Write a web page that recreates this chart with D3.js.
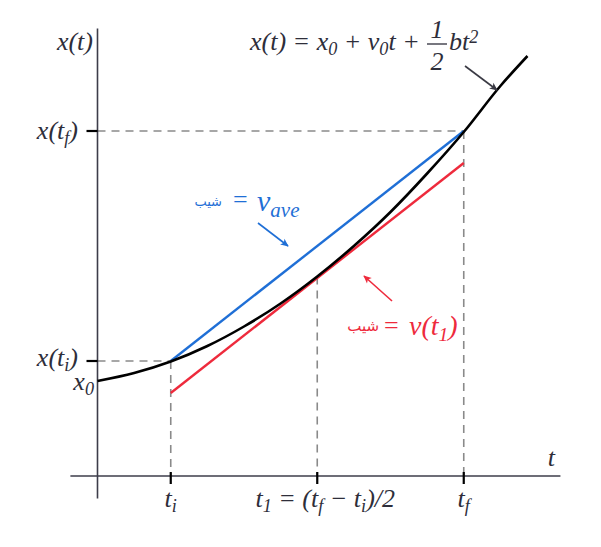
<!DOCTYPE html>
<html>
<head>
<meta charset="utf-8">
<script src="https://cdn.jsdelivr.net/npm/d3@7"></script>
<style>
  body { margin: 0; background: #fff; }
</style>
</head>
<body>
<div id="chart"></div>
<script>
const width = 601
const height = 547

// position along the curve x(t)
const curveT = [0, 0.5, 1, 1.5, 2, 2.5, 3, 3.5, 4, 4.5, 5, 5.5, 5.87]
const curveX = [1.90, 2.06, 2.29, 2.60, 2.99, 3.45, 3.99, 4.60, 5.28, 6.05, 6.88, 7.80, 8.40]

// marked instants on the t axis
const tickT = [1, 3, 5]   // ti, t1, tf
const tickX = [2.3, 6.9]  // x(ti), x(tf)

// secant (blue) and tangent at t1 (red)
const secantT = [1, 5]
const secantX = [2.3, 6.9]
const tangentT = [1, 5]
const tangentX = [1.66, 6.26]

const serif = 'Liberation Serif'

const svg = d3.select('#chart').append('svg')
    .attr('width', width).attr('height', height)

const xScale = d3.scaleLinear().domain([0, 6]).range([97.5, 537])
const yScale = d3.scaleLinear().domain([0, 9]).range([476, 26])

const axisColor = '#3d3d4a'
const dashColor = '#8a8a8a'

// dashed guides
const guides = svg.append('g').attr('stroke', dashColor).attr('stroke-width', 1.6)
    .attr('stroke-dasharray', '8,6').attr('fill', 'none')
guides.append('line')
    .attr('x1', xScale(0)).attr('x2', xScale(tickT[0]))
    .attr('y1', yScale(tickX[0])).attr('y2', yScale(tickX[0]))
guides.append('line')
    .attr('x1', xScale(0)).attr('x2', xScale(tickT[2]))
    .attr('y1', yScale(tickX[1])).attr('y2', yScale(tickX[1]))
guides.append('line')
    .attr('x1', xScale(tickT[0])).attr('x2', xScale(tickT[0]))
    .attr('y1', yScale(tickX[0])).attr('y2', yScale(0))
guides.append('line')
    .attr('x1', xScale(tickT[1])).attr('x2', xScale(tickT[1]))
    .attr('y1', yScale(curveX[6])).attr('y2', yScale(0))
guides.append('line')
    .attr('x1', xScale(tickT[2])).attr('x2', xScale(tickT[2]))
    .attr('y1', yScale(tickX[1])).attr('y2', yScale(0))

// axes
svg.append('line').attr('stroke', axisColor).attr('stroke-width', 1.6)
    .attr('x1', xScale(-0.37)).attr('x2', xScale(6.32))
    .attr('y1', yScale(0)).attr('y2', yScale(0))
svg.append('line').attr('stroke', axisColor).attr('stroke-width', 1.6)
    .attr('x1', xScale(0)).attr('x2', xScale(0))
    .attr('y1', yScale(8.95)).attr('y2', yScale(-0.45))

// ticks
svg.selectAll('.tick-t').data(tickT).enter().append('line')
    .attr('class', 'tick-t').attr('stroke', '#000').attr('stroke-width', 2.2)
    .attr('x1', d => xScale(d)).attr('x2', d => xScale(d))
    .attr('y1', yScale(0) - 4).attr('y2', yScale(0) + 8)
svg.selectAll('.tick-x').data(tickX).enter().append('line')
    .attr('class', 'tick-x').attr('stroke', '#000').attr('stroke-width', 2.2)
    .attr('x1', xScale(0) - 11).attr('x2', xScale(0))
    .attr('y1', d => yScale(d)).attr('y2', d => yScale(d))

// secant and tangent
svg.append('line').attr('stroke', '#1f6fd6').attr('stroke-width', 2.4)
    .attr('x1', xScale(secantT[0])).attr('y1', yScale(secantX[0]))
    .attr('x2', xScale(secantT[1])).attr('y2', yScale(secantX[1]))
svg.append('line').attr('stroke', '#ee2a3c').attr('stroke-width', 2.4)
    .attr('x1', xScale(tangentT[0])).attr('y1', yScale(tangentX[0]))
    .attr('x2', xScale(tangentT[1])).attr('y2', yScale(tangentX[1]))

// curve
const line = d3.line().curve(d3.curveMonotoneX)
    .x((d, i) => xScale(d)).y((d, i) => yScale(curveX[i]))
svg.append('path').datum(curveT)
    .attr('d', line).attr('fill', 'none')
    .attr('stroke', '#000').attr('stroke-width', 2.6)

// arrows
const defs = svg.append('defs')
const marker = (id, color) => {
    defs.append('marker').attr('id', id)
        .attr('viewBox', '0 0 10 10').attr('refX', 9).attr('refY', 5)
        .attr('markerWidth', 6).attr('markerHeight', 5).attr('orient', 'auto')
        .append('path').attr('d', 'M0,0.5 L10,5 L0,9.5 L2.5,5 Z').attr('fill', color)
}
marker('arr-k', '#3a3a44')
marker('arr-b', '#1f6fd6')
marker('arr-r', '#ee2a3c')
const arrow = (x1, y1, x2, y2, color, id) => {
    svg.append('line').attr('x1', x1).attr('y1', y1).attr('x2', x2).attr('y2', y2)
        .attr('stroke', color).attr('stroke-width', 1.6)
        .attr('marker-end', `url(#${id})`)
}
arrow(465, 66, 497, 90, '#3a3a44', 'arr-k')
arrow(258, 223, 288, 246, '#1f6fd6', 'arr-b')
arrow(392, 301, 364, 276, '#ee2a3c', 'arr-r')

// text helper: parts = [text, subscript?]
const label = (x, y, size, color, anchor, parts) => {
    const t = svg.append('text').attr('x', x).attr('y', y)
        .attr('font-family', serif).attr('font-style', 'italic')
        .attr('font-size', size).attr('fill', color).attr('text-anchor', anchor)
    parts.forEach(p => {
        const s = t.append('tspan').text(p[0])
        if (p[1] === 'sub') s.attr('baseline-shift', '-28%').attr('font-size', size * 0.7)
        if (p[1] === 'sup') s.attr('baseline-shift', '40%').attr('font-size', size * 0.7)
        if (p[1] === 'up') s.attr('font-style', 'normal')
    })
    return t
}

const ink = '#2e2e3a'
label(93, 50, 26, ink, 'end', [['x(t)']])
label(78, 139, 26, ink, 'end', [['x(t'], ['f', 'sub'], [')']])
label(78, 366, 26, ink, 'end', [['x(t'], ['i', 'sub'], [')']])
label(94, 390, 26, ink, 'end', [['x'], ['0', 'sub']])
label(555, 466, 26, ink, 'end', [['t']])

label(xScale(tickT[0]), 507, 26, ink, 'middle', [['t'], ['i', 'sub']])
label(xScale(tickT[1]) + 8, 507, 26, ink, 'middle',
    [['t'], ['1', 'sub'], [' = (t'], ['f', 'sub'], [' − t'], ['i', 'sub'], [')/2']])
label(xScale(tickT[2]), 507, 26, ink, 'middle', [['t'], ['f', 'sub']])

// equation
label(250, 50, 26, ink, 'start',
    [['x(t) = x'], ['0', 'sub'], [' + v'], ['0', 'sub'], ['t + ']])
label(437, 38, 26, ink, 'middle', [['1']])
svg.append('line').attr('x1', 427).attr('x2', 447).attr('y1', 44).attr('y2', 44)
    .attr('stroke', ink).attr('stroke-width', 1.3)
label(437, 70, 26, ink, 'middle', [['2']])
label(449, 50, 26, ink, 'start', [['bt'], ['2', 'sup']])

// slope labels
const blue = '#1f6fd6'
svg.append('text').attr('font-family', 'DejaVu Sans')
    .attr('x', 222).attr('y', 206)
    .attr('font-size', 13).attr('fill', blue).attr('text-anchor', 'end').text('شیب')
label(233, 208, 26, blue, 'start', [['=', 'up']])
label(257, 211, 30, blue, 'start', [['v'], ['ave', 'sub']])

const red = '#ee2a3c'
svg.append('text').attr('font-family', 'DejaVu Sans')
    .attr('x', 379).attr('y', 331)
    .attr('font-size', 15).attr('fill', red).attr('text-anchor', 'end').text('شیب')
label(384, 334, 26, red, 'start', [['=', 'up']])
label(409, 335, 28, red, 'start', [['v(t'], ['1', 'sub'], [')']])
</script>
</body>
</html>
